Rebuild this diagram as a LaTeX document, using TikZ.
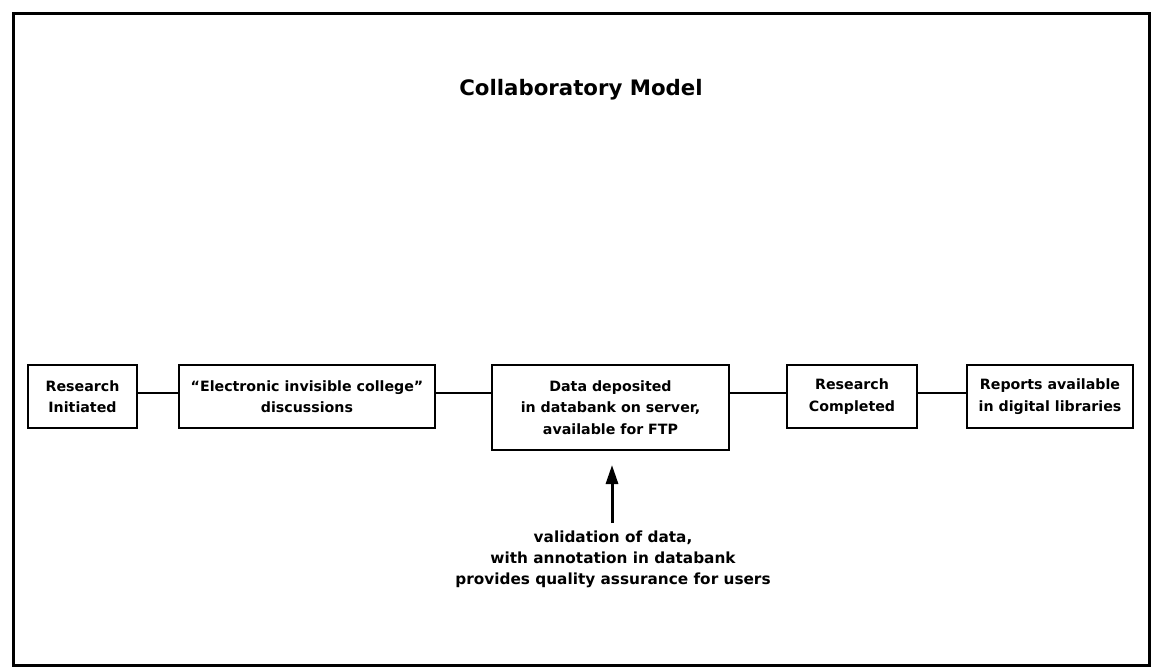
\documentclass[tikz,border=0pt]{standalone}
\usepackage{fontspec}
\setmainfont{DejaVu Sans}
\usetikzlibrary{arrows.meta}
\tikzset{
  stage/.style={draw, line width=2pt, align=center, inner sep=0pt,
    font=\bfseries\fontsize{14.2}{21.5}\selectfont},
  link/.style={line width=1.6pt},
  note/.style={align=center, font=\bfseries\fontsize{15.3}{21}\selectfont},
}
\begin{document}
\begin{tikzpicture}[x=1pt, y=-1pt]
  \useasboundingbox (0,0) rectangle (1154,671);
  % outer frame
  \draw[line width=3pt] (13,14) rectangle (1149,665);
  % title
  \node[font=\bfseries\fontsize{21.3}{26}\selectfont] (title) at (581,90) {Collaboratory Model};
  % stages
  \node[stage, minimum width=109pt, minimum height=63pt] (init) at (82.5,396.5) {Research\\Initiated};
  \node[stage, minimum width=256pt, minimum height=63pt] (college) at (307,396.5) {``Electronic invisible college''\\discussions};
  \node[stage, minimum width=237pt, minimum height=85pt] (data) at (610.5,407.5) {Data deposited\\in databank on server,\\available for FTP};
  \node[stage, minimum width=130pt, minimum height=63pt] (done) at (852,396.5) {Research\\Completed};
  \node[stage, minimum width=166pt, minimum height=63pt] (reports) at (1050,396.5) {Reports available\\in digital libraries};
  % connectors
  \coordinate (row) at (0,393);
  \draw[link] (init.east |- row) -- (college.west |- row);
  \draw[link] (college.east |- row) -- (data.west |- row);
  \draw[link] (data.east |- row) -- (done.west |- row);
  \draw[link] (done.east |- row) -- (reports.west |- row);
  % validation note and arrow
  \node[note] (valid) at (613,559) {validation of data,\\with annotation in databank\\provides quality assurance for users};
  \coordinate (tail) at (612,523);
  \draw[line width=3pt, -{Triangle[length=19pt, width=12pt]}] (tail) -- ([yshift=-14pt]tail |- data.south);
\end{tikzpicture}
\end{document}
